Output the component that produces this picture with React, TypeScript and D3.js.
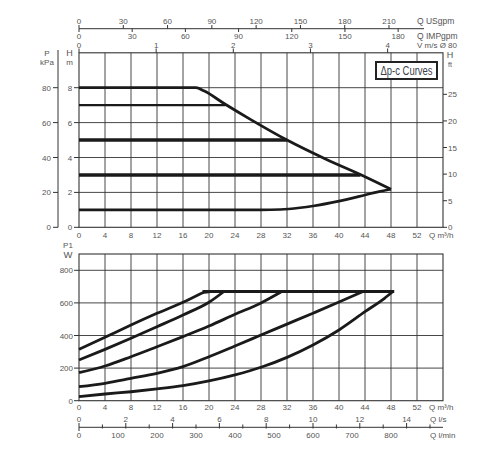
import React from 'react'
import * as d3 from 'd3'

// --- head curves (H in m vs Q in m3/h)
const headQ8 = [0, 18, 19.2, 22.5, 26.3, 32, 38, 44, 48]
const headH8 = [8, 8, 7.82, 7.05, 6.2, 5.0, 3.9, 2.9, 2.18]
const headQ7 = [0, 22.5]
const headH7 = [7, 7]
const headQ5 = [0, 32]
const headH5 = [5, 5]
const headQ3 = [0, 43.3]
const headH3 = [3, 3]
const headQ1 = [0, 28, 31, 34, 36, 40, 44, 46, 48]
const headH1 = [1, 1, 1.02, 1.12, 1.22, 1.5, 1.85, 2.03, 2.18]

// --- power curves (P1 in W vs Q)
const powQA = [0, 4, 8, 12, 16, 18, 19.2, 20.2]
const powWA = [315, 389, 464, 536, 604, 642, 664, 670]
const powQB = [0, 4, 8, 12, 16, 20, 22.3]
const powWB = [250, 315, 383, 454, 526, 604, 670]
const powQC = [0, 4, 8, 12, 16, 20, 24, 28, 31.2]
const powWC = [172, 213, 270, 331, 393, 458, 530, 600, 670]
const powQD = [0, 4, 8, 12, 16, 20, 24, 28, 32, 36, 40, 43.7]
const powWD = [86, 107, 137, 168, 209, 270, 336, 403, 470, 537, 605, 670]
const powQE = [0, 4, 8, 12, 16, 20, 24, 28, 32, 36, 40, 44, 47, 48.3]
const powWE = [25, 41, 55, 72, 92, 121, 158, 205, 266, 342, 434, 546, 628, 670]
const powQMax = [19, 48.5]
const powWMax = [670, 670]

// --- tick labels
const qTicks = d3.range(0, 56, 4)
const qLabels = d3.range(0, 56, 4)
const hTicks = [0, 2, 4, 6, 8]
const kpaTicks = [0, 20, 40, 60, 80]
const ftTicks = [0, 5, 10, 15, 20, 25]
const usTicks = [0, 30, 60, 90, 120, 150, 180, 210]
const impTicks = [0, 30, 60, 90, 120, 150, 180]
const velTicks = [0, 1, 2, 3, 4]
const wTicks = [0, 200, 400, 600, 800]
const lsTicks = d3.range(0, 16, 1)
const lsLabels = [0, 2, 4, 6, 8, 10, 12, 14]
const lminLabels = [0, 100, 200, 300, 400, 500, 600, 700, 800]

const FONT = 'Liberation Sans, Arial, sans-serif'
const TXT = '#555'
const GRID = '#333'

const x = d3.scaleLinear().domain([0, 56]).range([79, 443])
const yH = d3.scaleLinear().domain([0, 10]).range([227.3, 52.8])
const yKpa = d3.scaleLinear().domain([0, 100]).range([227.3, 52.8])
const yFt = d3.scaleLinear().domain([0, 10 / 0.3048]).range([227.3, 52.8])
const xUs = d3.scaleLinear().domain([0, 56 / 0.2271]).range([79, 443])
const xImp = d3.scaleLinear().domain([0, 56 / 0.27277]).range([79, 443])
const xVel = d3.scaleLinear().domain([0, 56 / 11.87]).range([79, 443])
const yW = d3.scaleLinear().domain([0, 900]).range([400.7, 254])
const xLs = d3.scaleLinear().domain([0, 56 / 3.6]).range([79, 443])
const xLmin = d3.scaleLinear().domain([0, 56 / 0.06]).range([79, 443])

function path(qs: number[], vs: number[], y: d3.ScaleLinear<number, number>) {
  const line = d3
    .line<number>()
    .x((_, i) => x(qs[i]))
    .y((v) => y(v))
    .curve(d3.curveMonotoneX)
  return line(vs) || ''
}

function Txt(props: { x: number; y: number; anchor?: string; size?: number; children: React.ReactNode }) {
  return (
    <text
      x={props.x}
      y={props.y}
      textAnchor={props.anchor || 'middle'}
      fontSize={props.size || 8}
      fontFamily={FONT}
      fill={TXT}
    >
      {props.children}
    </text>
  )
}

export default function App() {
  const headCurves = [
    { q: headQ8, v: headH8, w: 2.8 },
    { q: headQ7, v: headH7, w: 2.4 },
    { q: headQ5, v: headH5, w: 3.4 },
    { q: headQ3, v: headH3, w: 3.4 },
    { q: headQ1, v: headH1, w: 2.6 },
  ]
  const powCurves = [
    { q: powQA, v: powWA },
    { q: powQB, v: powWB },
    { q: powQC, v: powWC },
    { q: powQD, v: powWD },
    { q: powQE, v: powWE },
    { q: powQMax, v: powWMax },
  ]

  return (
    <svg
      width={500}
      height={450}
      style={{ position: 'absolute', left: 0, top: 0, background: '#fff' }}
    >
      {/* ---------- top axes (US gpm / IMP gpm / velocity) ---------- */}
      <line x1={79} x2={424} y1={28.7} y2={28.7} stroke={GRID} strokeWidth={1} />
      {usTicks.map((t) => (
        <g key={'us' + t}>
          <line x1={xUs(t)} x2={xUs(t)} y1={25} y2={28.7} stroke={GRID} />
          <Txt x={xUs(t)} y={24}>{t}</Txt>
        </g>
      ))}
      {impTicks.map((t) => (
        <g key={'imp' + t}>
          <line x1={xImp(t)} x2={xImp(t)} y1={28.7} y2={32} stroke={GRID} />
          <Txt x={xImp(t)} y={38.5}>{t}</Txt>
        </g>
      ))}
      {velTicks.map((t) => (
        <g key={'v' + t}>
          <line x1={xVel(t)} x2={xVel(t)} y1={48.5} y2={52.8} stroke={GRID} />
          <Txt x={xVel(t)} y={47.5}>{t}</Txt>
        </g>
      ))}
      <Txt x={417} y={24} anchor="start" size={8.5}>Q USgpm</Txt>
      <Txt x={417} y={38.5} anchor="start" size={8.5}>Q IMPgpm</Txt>
      <Txt x={417} y={48} anchor="start" size={8}>V m/s Ø 80</Txt>

      {/* ---------- top chart: head ---------- */}
      {qTicks.slice(1).map((t) => (
        <line key={'gv' + t} x1={x(t)} x2={x(t)} y1={52.8} y2={227.3} stroke={GRID} strokeWidth={0.9} />
      ))}
      {hTicks.slice(1).map((t) => (
        <line key={'gh' + t} x1={79} x2={443} y1={yH(t)} y2={yH(t)} stroke={GRID} strokeWidth={0.9} />
      ))}
      <rect x={79} y={52.8} width={364} height={174.5} fill="none" stroke={GRID} strokeWidth={1.1} />

      {/* left kPa axis */}
      <line x1={58} x2={58} y1={50} y2={227.3} stroke={GRID} />
      {kpaTicks.map((t) => (
        <g key={'kpa' + t}>
          <line x1={53} x2={58} y1={yKpa(t)} y2={yKpa(t)} stroke={GRID} />
          <Txt x={51} y={yKpa(t) + 3} anchor="end">{t}</Txt>
        </g>
      ))}
      <Txt x={47} y={56}>P</Txt>
      <Txt x={47} y={65}>kPa</Txt>
      {hTicks.map((t) => (
        <g key={'hm' + t}>
          <line x1={74} x2={79} y1={yH(t)} y2={yH(t)} stroke={GRID} />
          <Txt x={70} y={yH(t) + 3}>{t}</Txt>
        </g>
      ))}
      <Txt x={69.5} y={56} size={9}>H</Txt>
      <Txt x={69.5} y={65}>m</Txt>

      {/* right ft axis */}
      {ftTicks.map((t) => (
        <g key={'ft' + t}>
          <line x1={443} x2={447} y1={yFt(t)} y2={yFt(t)} stroke={GRID} />
          <Txt x={448} y={yFt(t) + 3} anchor="start">{t}</Txt>
        </g>
      ))}
      <Txt x={450} y={58} size={9}>H</Txt>
      <Txt x={450} y={66.5} size={7}>ft</Txt>

      {/* bottom Q axis of top chart */}
      {qLabels.map((t) => (
        <Txt key={'qa' + t} x={x(t)} y={238}>{t}</Txt>
      ))}
      <Txt x={429} y={238} anchor="start">Q m³/h</Txt>

      {headCurves.map((c, i) => (
        <path
          key={'hc' + i}
          d={path(c.q, c.v, yH)}
          fill="none"
          stroke="#1a1a1a"
          strokeWidth={c.w}
          strokeLinejoin="round"
        />
      ))}

      {/* legend box */}
      <rect x={376} y={62} width={61} height={17} fill="#fff" stroke="#222" strokeWidth={2} />
      <text
        x={406.5}
        y={75}
        textAnchor="middle"
        fontSize={12}
        fontFamily="Liberation Sans Narrow, Liberation Sans, Arial, sans-serif"
        fill="#3a3f4a"
        textLength={52}
        lengthAdjust="spacingAndGlyphs"
      >
        Δp-c Curves
      </text>

      {/* ---------- bottom chart: power ---------- */}
      {qTicks.slice(1).map((t) => (
        <line key={'bgv' + t} x1={x(t)} x2={x(t)} y1={254} y2={400.7} stroke={GRID} strokeWidth={0.9} />
      ))}
      {wTicks.slice(1).map((t) => (
        <line key={'bgh' + t} x1={79} x2={443} y1={yW(t)} y2={yW(t)} stroke={GRID} strokeWidth={0.9} />
      ))}
      <rect x={79} y={254} width={364} height={146.7} fill="none" stroke={GRID} strokeWidth={1.1} />
      {wTicks.map((t) => (
        <g key={'w' + t}>
          <line x1={74} x2={79} y1={yW(t)} y2={yW(t)} stroke={GRID} />
          <Txt x={73} y={yW(t) + 3} anchor="end">{t}</Txt>
        </g>
      ))}
      <Txt x={68} y={248}>P1</Txt>
      <Txt x={68} y={257.5} size={9.5}>W</Txt>

      {powCurves.map((c, i) => (
        <path
          key={'pc' + i}
          d={path(c.q, c.v, yW)}
          fill="none"
          stroke="#1a1a1a"
          strokeWidth={2.8}
          strokeLinejoin="round"
        />
      ))}

      {qLabels.map((t) => (
        <Txt key={'qb' + t} x={x(t)} y={410}>{t}</Txt>
      ))}
      <Txt x={429} y={410} anchor="start">Q m³/h</Txt>

      {/* l/s and l/min axis */}
      <line x1={79} x2={443} y1={427.3} y2={427.3} stroke={GRID} />
      {lsTicks.map((t) => (
        <line key={'lst' + t} x1={xLs(t)} x2={xLs(t)} y1={t % 2 === 0 ? 423 : 424.5} y2={t === 0 ? 431 : 428.5} stroke={GRID} />
      ))}
      {lsLabels.map((t) => (
        <Txt key={'ls' + t} x={xLs(t)} y={422}>{t}</Txt>
      ))}
      {lminLabels.map((t) => (
        <Txt key={'lm' + t} x={xLmin(t)} y={438}>{t}</Txt>
      ))}
      <Txt x={430} y={422} anchor="start">Q l/s</Txt>
      <Txt x={430} y={438} anchor="start">Q l/min</Txt>
    </svg>
  )
}
